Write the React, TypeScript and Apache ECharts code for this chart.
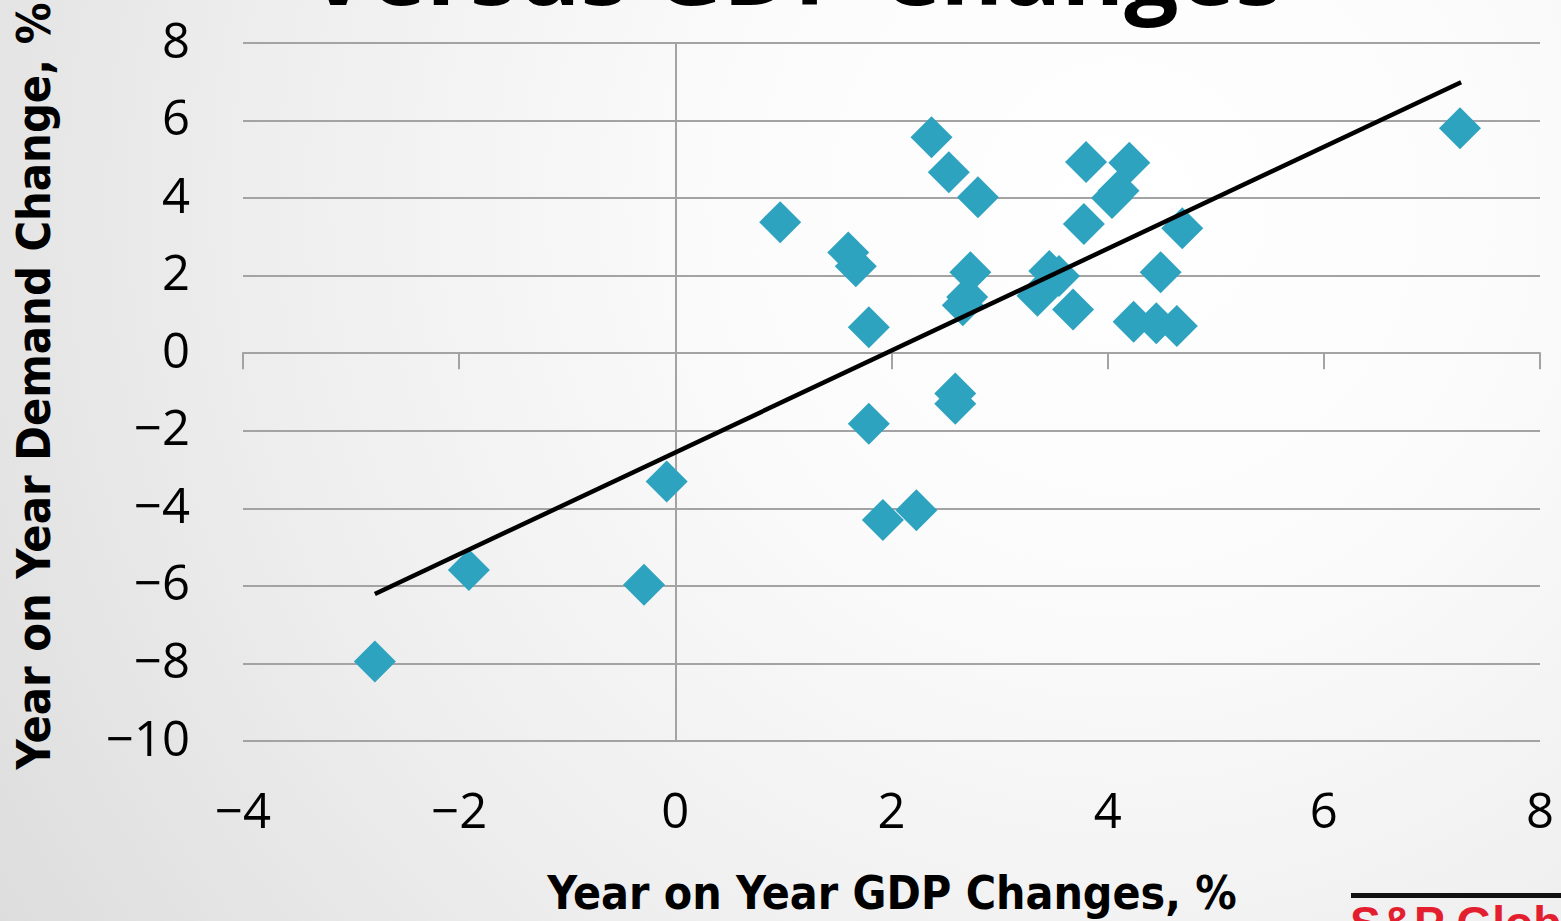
import React, { useEffect, useRef } from 'react';
import * as echarts from 'echarts';

// Year on year GDP change (%) for each observation
const gdpChange = [
  -2.78, -1.91, -0.29, -0.08, 0.97, 1.60, 1.67, 1.79, 1.79, 1.92, 2.23,
  2.37, 2.53, 2.80, 2.59, 2.59, 2.73, 2.70, 2.66, 3.46, 3.55, 3.35, 3.68,
  3.80, 4.20, 4.10, 4.04, 3.78, 4.69, 4.49, 4.24, 4.45, 4.64, 7.26,
];
// Year on year demand change (%) for each observation
const demandChange = [
  -7.95, -5.59, -5.97, -3.31, 3.38, 2.60, 2.24, 0.67, -1.82, -4.30, -4.05,
  5.57, 4.67, 4.02, -1.04, -1.30, 2.09, 1.45, 1.24, 2.12, 1.99, 1.48, 1.13,
  4.93, 4.91, 4.19, 4.00, 3.33, 3.22, 2.09, 0.81, 0.77, 0.70, 5.80,
];
// Linear trend line end points
const trendX = [-2.78, 7.27];
const trendY = [-6.21, 6.99];

const xTicks = [-4, -2, 0, 2, 4, 6, 8];
const yTicks = [-10, -8, -6, -4, -2, 0, 2, 4, 6, 8];

const titleText = 'Versus GDP Changes';
const xAxisTitle = 'Year on Year GDP Changes, %';
const yAxisTitle = 'Year on Year Demand Change, %';
const sourceText = 'S&P Global';

const fmt = (v: number) => (v < 0 ? '\u2212' + Math.abs(v) : String(v));

export default function App() {
  const ref = useRef<HTMLDivElement>(null);

  useEffect(() => {
    if (!ref.current) return;
    const chart = echarts.init(ref.current, undefined, { renderer: 'svg' });
    const scatterData = gdpChange.map((x, i) => [x, demandChange[i]]);
    const trendData = trendX.map((x, i) => [x, trendY[i]]);
    const xMin = xTicks[0];
    const xMax = xTicks[xTicks.length - 1];
    const xInt = xTicks[1] - xTicks[0];
    const yMin = yTicks[0];
    const yMax = yTicks[yTicks.length - 1];
    const yInt = yTicks[1] - yTicks[0];
    const gridColor = '#a3a3a3';
    const tickFont = 'Open Sans';

    chart.setOption({
      animation: false,
      grid: { left: 243, right: 21, top: 43, bottom: 180, containLabel: false },
      xAxis: [
        {
          type: 'value',
          min: xMin,
          max: xMax,
          interval: xInt,
          position: 'bottom',
          axisLine: { show: false, onZero: false },
          axisTick: { show: false },
          splitLine: { show: false },
          axisLabel: {
            formatter: fmt,
            fontFamily: tickFont,
            fontSize: 49,
            color: '#000',
            margin: 43,
          },
        },
        {
          type: 'value',
          min: xMin,
          max: xMax,
          interval: xInt,
          position: 'bottom',
          axisLine: { show: true, onZero: true, lineStyle: { color: gridColor, width: 2 } },
          axisTick: { show: true, length: 16, lineStyle: { color: gridColor, width: 2 } },
          splitLine: { show: false },
          axisLabel: { show: false },
        },
      ],
      yAxis: {
        type: 'value',
        min: yMin,
        max: yMax,
        interval: yInt,
        axisLine: { show: false, onZero: false },
        axisTick: { show: false },
        splitLine: { show: true, lineStyle: { color: gridColor, width: 2 } },
        axisLabel: {
          formatter: fmt,
          fontFamily: tickFont,
          fontSize: 49,
          color: '#000',
          margin: 53,
          verticalAlign: 'bottom',
          lineHeight: 9,
        },
      },
      series: [
        {
          type: 'scatter',
          xAxisIndex: 0,
          data: scatterData,
          symbol: 'diamond',
          symbolSize: 42,
          itemStyle: { color: '#2ea3c0', opacity: 1 },
          z: 3,
          markLine: {
            silent: true,
            symbol: 'none',
            label: { show: false },
            lineStyle: { color: gridColor, width: 2, type: 'solid' },
            data: [{ xAxis: 0 }],
            z: 1,
          },
        },
        {
          type: 'line',
          xAxisIndex: 0,
          data: trendData,
          symbol: 'none',
          lineStyle: { color: '#000', width: 4.5 },
          z: 5,
        },
      ],
      graphic: [
        {
          type: 'text',
          x: 795,
          y: -33,
          style: {
            text: titleText,
            fontFamily: 'Open Sans',
            fontWeight: 'bold',
            fontSize: 96,
            fill: '#000',
            align: 'center',
            verticalAlign: 'middle',
          },
        },
        {
          type: 'text',
          x: 892,
          y: 893,
          style: {
            text: xAxisTitle,
            fontFamily: 'DejaVu Sans Condensed',
            fontWeight: 'bold',
            fontSize: 46,
            fill: '#000',
            align: 'center',
            verticalAlign: 'middle',
          },
        },
        {
          type: 'text',
          x: 34,
          y: 386,
          rotation: Math.PI / 2,
          style: {
            text: yAxisTitle,
            fontFamily: 'DejaVu Sans Condensed',
            fontWeight: 'bold',
            fontSize: 46.5,
            fill: '#000',
            align: 'center',
            verticalAlign: 'middle',
          },
        },
        {
          type: 'rect',
          shape: { x: 1351, y: 893, width: 210, height: 5 },
          style: { fill: '#111' },
        },
        {
          type: 'text',
          x: 1350,
          y: 900,
          style: {
            text: sourceText,
            fontFamily: 'Liberation Sans',
            fontWeight: 'bold',
            fontSize: 46,
            fill: '#e31e2f',
            align: 'left',
            verticalAlign: 'top',
          },
        },
      ],
    });
    return () => chart.dispose();
  }, []);

  return (
    <div
      ref={ref}
      style={{
        position: 'absolute',
        left: 0,
        top: 0,
        width: 1561,
        height: 921,
        overflow: 'hidden',
        background:
          'radial-gradient(circle at 72% 22%, #ffffff 0%, #fbfbfb 30%, #eeeeee 65%, #dddddd 100%)',
      }}
    />
  );
}
